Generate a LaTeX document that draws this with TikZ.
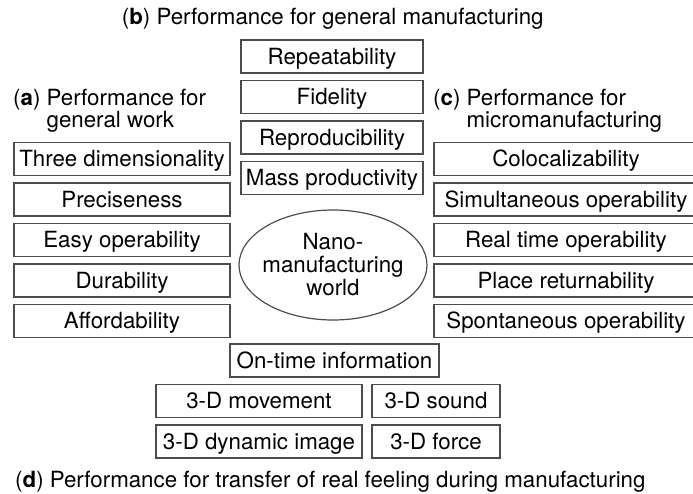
\documentclass[tikz,border=0pt]{standalone}
\usepackage{fontspec}
\setmainfont{TeX Gyre Heros}
\usetikzlibrary{shapes.geometric}

\begin{document}
\begin{tikzpicture}[x=1pt, y=-1pt, node distance=40.5pt,
  box/.style={draw=black!70, line width=1.2pt, inner sep=0pt, minimum height=33pt,
    text height=15.8pt, text depth=0pt, font=\fontsize{22.3}{23}\selectfont},
  leftbox/.style={box, minimum width=216pt},
  midbox/.style={box, minimum width=182pt},
  rightbox/.style={box, minimum width=264pt},
  world/.style={ellipse, draw=black!70, line width=1.2pt, inner sep=-8pt,
    minimum width=188pt, minimum height=110pt, align=center,
    font=\fontsize{22.3}{23}\selectfont},
  title/.style={inner sep=0pt, font=\fontsize{22.3}{22}\selectfont}]
  \useasboundingbox (0,0) rectangle (693,493);

  % (b) general manufacturing
  \node [title, anchor=base west] (ttlb) at (121.7,24) {(\textbf{b}) Performance for general manufacturing};
  \node [midbox] (rep) at (332,56.5) {Repeatability};
  \node [midbox] (fid) [below of=rep] {Fidelity};
  \node [midbox] (repro) [below of=fid] {Reproducibility};
  \node [midbox] (mass) [below of=repro] {Mass productivity};

  % (a) general work
  \node [title, anchor=north west, align=left] (ttla) at (13,88.8)
    {(\textbf{a}) Performance for\\\hphantom{(\textbf{a}) }general work};
  \node [leftbox] (three) at (122,159) {Three dimensionality};
  \node [leftbox] (prec) [below of=three] {Preciseness};
  \node [leftbox] (easy) [below of=prec] {Easy operability};
  \node [leftbox] (dur) [below of=easy] {Durability};
  \node [leftbox] (aff) [below of=dur] {Affordability};

  % (c) micromanufacturing
  \node [title, anchor=north west, align=left] (ttlc) at (433,88.8)
    {(\textbf{c}) Performance for\\\hphantom{(\textbf{c}) }micromanufacturing};
  \node [rightbox] (coloc) at (566,159) {Colocalizability};
  \node [rightbox] (simul) [below of=coloc] {Simultaneous operability};
  \node [rightbox] (realt) [below of=simul] {Real time operability};
  \node [rightbox] (place) [below of=realt] {Place returnability};
  \node [rightbox] (spont) [below of=place] {Spontaneous operability};

  \node [world] (nano) at (333,265) {Nano-\\manufacturing\\world};

  % (d) transfer of real feeling
  \node [box, minimum width=209pt] (ontime) at (334.5,360.5) {On-time information};
  \node [box, minimum width=206pt] (move) at (259,401) {3-D movement};
  \node [box, minimum width=128pt] (sound) at (436,401) {3-D sound};
  \node [box, minimum width=206pt] (dynimg) [below of=move] {3-D dynamic image};
  \node [box, minimum width=128pt] (force) [below of=sound] {3-D force};
  \node [title, anchor=base west] (ttld) at (15,487.3) {(\textbf{d}) Performance for transfer of real feeling during manufacturing};
\end{tikzpicture}
\end{document}
